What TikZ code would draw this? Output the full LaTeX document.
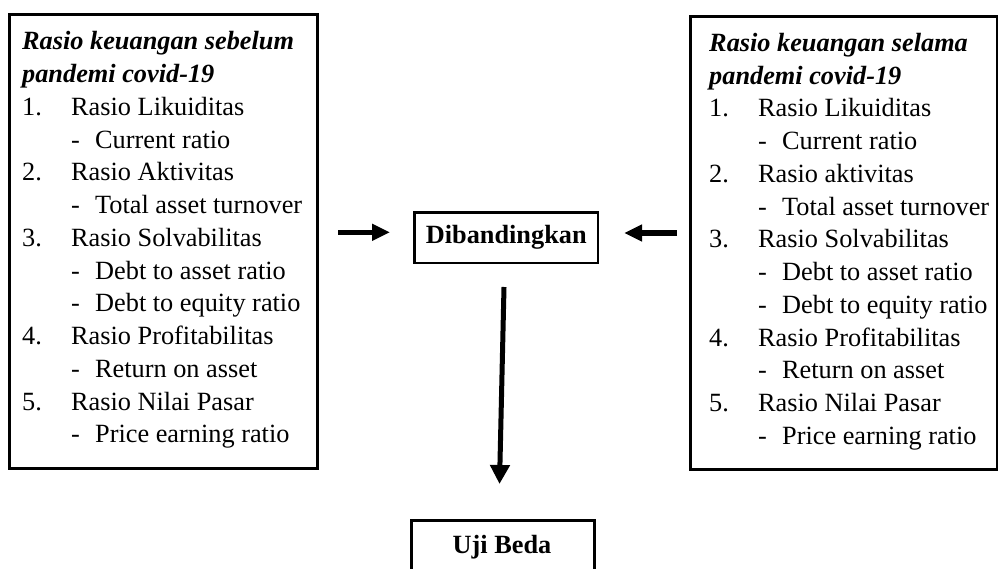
\documentclass[tikz,border=0pt]{standalone}
\usepackage{fontspec}
\setmainfont{Liberation Serif}
\usetikzlibrary{arrows.meta}
\newcommand{\myNumItem}[2]{\makebox[49pt][l]{#1}#2}
\newcommand{\mySubItem}[1]{\hspace*{49pt}\makebox[24pt][l]{-}#1}
\begin{document}
\begin{tikzpicture}[x=1pt,y=-1pt,
  box/.style={draw=black,line width=3pt,rectangle,inner sep=0pt},
  txt/.style={inner sep=0pt,anchor=base west,font=\fontsize{26.3}{32.75}\selectfont},
  harrow/.style={line width=5.5pt,-{Triangle[length=18pt,width=16pt]}},
  varrow/.style={line width=5pt,-{Triangle[length=19pt,width=19pt]}}]
\useasboundingbox (0,0) rectangle (998,569);
\clip (0,0) rectangle (998,569);

% boxes
\node[box,minimum width=308pt,minimum height=453.3pt] (lbox) at (163,241.35) {};
\node[box,minimum width=307pt,minimum height=452.5pt] (rbox) at (843.5,242.75) {};
\node[box,line width=2.7pt,minimum width=183.5pt,minimum height=50.5pt,
      font=\fontsize{26.3}{32.75}\selectfont\bfseries] (dib) at (506.25,237.75) {Dibandingkan};
\node[box,minimum width=182.8pt,minimum height=69.4pt] (uji) at (503,555) {};
\node[inner sep=0pt,anchor=base,font=\fontsize{26.3}{32.75}\selectfont\bfseries] (ujitxt) at (502,553) {Uji Beda};

% left list
\node[txt] (ltext) at (22,50) {\begin{tabular}[t]{@{}l@{}}
\textbf{\textit{Rasio keuangan sebelum}}\\
\textbf{\textit{pandemi covid-19}}\\
\myNumItem{1.}{Rasio Likuiditas}\\
\mySubItem{Current ratio}\\
\myNumItem{2.}{Rasio Aktivitas}\\
\mySubItem{Total asset turnover}\\
\myNumItem{3.}{Rasio Solvabilitas}\\
\mySubItem{Debt to asset ratio}\\
\mySubItem{Debt to equity ratio}\\
\myNumItem{4.}{Rasio Profitabilitas}\\
\mySubItem{Return on asset}\\
\myNumItem{5.}{Rasio Nilai Pasar}\\
\mySubItem{Price earning ratio}
\end{tabular}};

% right list
\node[txt] (rtext) at (709,51.5) {\begin{tabular}[t]{@{}l@{}}
\textbf{\textit{Rasio keuangan selama}}\\
\textbf{\textit{pandemi covid-19}}\\
\myNumItem{1.}{Rasio Likuiditas}\\
\mySubItem{Current ratio}\\
\myNumItem{2.}{Rasio aktivitas}\\
\mySubItem{Total asset turnover}\\
\myNumItem{3.}{Rasio Solvabilitas}\\
\mySubItem{Debt to asset ratio}\\
\mySubItem{Debt to equity ratio}\\
\myNumItem{4.}{Rasio Profitabilitas}\\
\mySubItem{Return on asset}\\
\myNumItem{5.}{Rasio Nilai Pasar}\\
\mySubItem{Price earning ratio}
\end{tabular}};

% arrow end points
\coordinate (la1) at (338,232.3);
\coordinate (la2) at (390,232.3);
\coordinate (ra1) at (677,233);
\coordinate (ra2) at (624,233);
\coordinate (da1) at (504,287);
\coordinate (da2) at (499.5,484);

\draw[harrow] (la1) -- (la2);
\draw[harrow] (ra1) -- (ra2);
\draw[varrow] (da1) -- (da2);
\end{tikzpicture}
\end{document}
